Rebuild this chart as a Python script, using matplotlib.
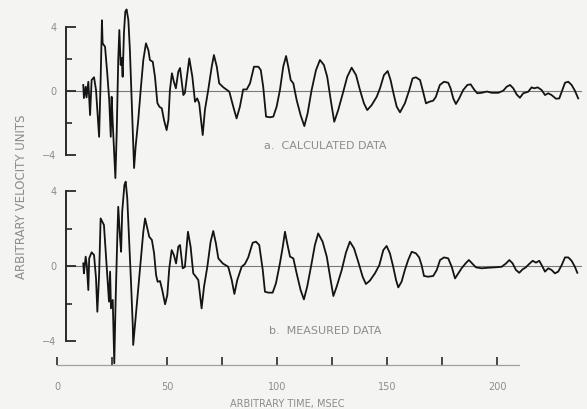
import numpy as np
import matplotlib
matplotlib.use('Agg')
import matplotlib.pyplot as plt
from matplotlib.ticker import FixedLocator

# calculated data (top trace), time in msec, arbitrary velocity units
calc_time = [11.8, 12.1, 12.9, 13.3, 14.1, 14.9, 15.6, 16.7, 17.6, 19.0,
             19.7, 20.3, 20.6, 21.7, 22.7, 23.6, 24.3, 24.7, 25.2, 26.4,
             27.0, 27.7, 28.2, 28.8, 29.3, 29.7, 30.3, 30.9, 31.5, 32.3,
             33.0, 33.8, 34.5, 34.9, 35.6, 36.8, 37.9, 39.1, 40.3, 41.4,
             42.1, 43.4, 44.4, 45.5, 46.4, 47.5, 48.5, 49.7, 50.5, 51.2,
             52.1, 53.0, 53.9, 55.0, 55.8, 57.3, 58.0, 60.0, 61.4, 62.6,
             63.6, 64.5, 66.1, 67.1, 68.6, 70.2, 71.2, 72.5, 73.6, 75.5,
             78.2, 80.0, 81.5, 83.0, 84.5, 86.1, 87.6, 89.4, 91.4, 92.5,
             93.6, 94.9, 96.7, 98.2, 99.7, 101.2, 102.7, 104.0, 105.0, 106.1,
             107.3, 108.8, 110.6, 112.3, 113.8, 115.6, 117.6, 119.4, 121.2, 122.7,
             124.3, 125.9, 127.7, 130.0, 131.8, 133.8, 135.8, 137.6, 139.4, 140.9,
             142.9, 145.2, 146.7, 148.5, 150.2, 151.5, 153.0, 154.3, 155.8, 158.0,
             160.0, 161.5, 163.0, 164.9, 166.1, 167.6, 169.1, 170.9, 172.1, 173.9,
             175.8, 177.7, 178.8, 180.0, 181.2, 182.7, 184.5, 186.4, 187.9, 189.4,
             190.9, 192.9, 195.3, 197.5, 200.5, 202.7, 204.3, 205.8, 207.3, 208.8,
             210.3, 211.8, 214.1, 215.6, 216.8, 218.4, 220.2, 221.7, 223.2, 224.7,
             226.7, 228.2, 229.3, 230.8, 232.3, 233.8, 235.3, 236.8]
calc_vel = [0.38, -0.44, 0.27, -0.40, 0.58, -1.50, 0.69, 0.86, 0.06, -2.86,
            0.69, 4.42, 2.98, 2.77, 1.12, -0.56, -2.86, -0.36, -2.00, -5.44,
            -2.63, 1.94, 3.81, 1.63, 2.06, 0.89, 3.63, 4.96, 5.10, 4.44,
            2.56, -0.56, -3.25, -4.81, -3.48, -1.81, 0.06, 1.94, 2.98, 2.56,
            1.94, 1.83, 0.89, -0.75, -0.98, -1.08, -1.81, -2.44, -1.81, 0.06,
            1.11, 0.58, 0.17, 1.21, 1.44, -0.25, -0.12, 2.04, 0.89, -0.67,
            -0.46, -0.77, -2.75, -1.19, 0.06, 1.52, 2.25, 1.52, 0.48, 0.23,
            -0.04, -0.98, -1.71, -0.98, 0.10, 0.10, 0.48, 1.52, 1.52, 1.31,
            0.27, -1.60, -1.64, -1.60, -0.98, 0.06, 1.52, 2.19, 1.52, 0.69,
            0.48, -0.56, -1.50, -2.19, -1.39, 0.06, 1.31, 1.94, 1.63, 0.89,
            -0.56, -1.92, -1.19, -0.04, 0.89, 1.46, 1.00, 0.06, -0.77, -1.19,
            -0.88, -0.36, 0.17, 1.00, 1.25, 0.69, -0.25, -0.98, -1.33, -0.77,
            0.06, 0.79, 0.86, 0.69, 0.06, -0.77, -0.67, -0.60, -0.36, 0.38,
            0.58, 0.52, 0.17, -0.46, -0.81, -0.46, 0.06, 0.38, 0.42, 0.11,
            -0.14, -0.11, -0.03, -0.11, -0.11, 0.02, 0.27, 0.38, 0.17, -0.21,
            -0.42, -0.14, -0.04, 0.23, 0.17, 0.23, 0.06, -0.25, -0.14, -0.25,
            -0.48, -0.46, -0.04, 0.52, 0.58, 0.38, 0.02, -0.46]

# measured data (bottom trace)
meas_time = [11.8, 12.1, 12.9, 13.4, 14.1, 14.5, 15.6, 16.7, 17.6, 18.2,
             19.0, 19.7, 20.5, 21.2, 22.1, 22.7, 23.5, 24.0, 24.4, 25.2,
             25.9, 26.5, 27.3, 27.7, 28.5, 29.0, 29.5, 30.5, 31.1, 31.8,
             32.7, 33.5, 34.3, 34.5, 35.3, 36.5, 37.9, 39.1, 39.9, 40.9,
             41.8, 43.0, 44.0, 44.9, 45.6, 46.7, 47.7, 49.0, 50.0, 50.9,
             52.0, 53.0, 54.0, 55.0, 55.8, 57.0, 58.0, 59.4, 60.6, 61.8,
             63.0, 64.1, 65.6, 66.7, 68.2, 69.7, 70.9, 72.1, 73.2, 75.2,
             77.7, 79.3, 80.5, 81.8, 83.8, 85.3, 86.8, 88.8, 90.3, 91.8,
             93.4, 94.4, 95.9, 97.9, 99.4, 101.2, 102.5, 103.5, 104.5, 105.8,
             107.3, 108.8, 110.6, 112.1, 113.6, 115.6, 117.1, 118.6, 120.6, 122.5,
             124.0, 125.5, 127.0, 129.3, 131.2, 133.0, 134.9, 136.8, 138.8, 140.3,
             142.1, 144.4, 146.4, 148.2, 149.7, 151.2, 152.7, 154.0, 155.0, 156.5,
             158.0, 159.5, 161.1, 163.0, 164.5, 165.6, 166.7, 168.6, 170.9, 172.5,
             174.0, 175.8, 177.7, 179.3, 180.8, 182.3, 183.8, 185.6, 187.1, 188.6,
             190.3, 192.9, 195.9, 198.9, 202.0, 204.0, 205.5, 207.0, 208.5, 210.0,
             211.5, 213.0, 214.5, 216.1, 217.6, 219.1, 220.6, 221.7, 223.2, 224.7,
             226.2, 227.7, 229.3, 230.8, 232.3, 233.8, 235.3, 236.4]
meas_vel = [0.14, -0.39, 0.50, 0.05, -1.28, 0.41, 0.73, 0.59, -0.66, -2.44,
            -0.48, 2.54, 2.36, 2.19, 0.59, -0.48, -1.90, -0.30, -2.26, -1.81,
            -5.19, -1.90, 1.65, 3.16, 1.56, 0.76, 2.90, 4.32, 4.50, 3.61,
            1.30, -0.84, -3.15, -4.21, -3.15, -1.55, 0.23, 1.83, 2.54, 2.01,
            1.56, 1.39, 0.68, -0.48, -0.84, -0.80, -1.28, -2.04, -1.55, -0.12,
            0.85, 0.59, 0.14, 1.03, 1.12, -0.12, -0.05, 1.83, 1.03, -0.39,
            -0.57, -0.75, -2.26, -1.10, -0.04, 1.30, 1.87, 1.21, 0.41, 0.14,
            -0.04, -0.75, -1.49, -0.75, -0.04, 0.11, 0.46, 1.24, 1.30, 1.12,
            -0.21, -1.37, -1.42, -1.42, -0.92, 0.14, 1.03, 1.83, 1.21, 0.50,
            0.41, -0.39, -1.28, -1.78, -1.10, 0.14, 1.12, 1.74, 1.30, 0.50,
            -0.57, -1.60, -1.10, -0.21, 0.71, 1.30, 0.94, 0.23, -0.57, -0.96,
            -0.78, -0.39, 0.05, 0.85, 1.07, 0.68, -0.04, -0.75, -1.14, -0.84,
            -0.21, 0.32, 0.76, 0.68, 0.46, 0.05, -0.53, -0.57, -0.53, -0.21,
            0.32, 0.46, 0.41, -0.04, -0.66, -0.39, -0.12, 0.14, 0.32, 0.14,
            -0.07, -0.12, -0.09, -0.07, -0.04, 0.14, 0.32, 0.14, -0.21, -0.36,
            -0.18, -0.07, 0.11, 0.28, 0.18, 0.28, -0.04, -0.30, -0.12, -0.21,
            -0.39, -0.30, 0.05, 0.46, 0.46, 0.28, -0.04, -0.36]

time_ticks = [0, 25, 50, 75, 100, 125, 150, 175, 200]
time_labels = ['0', '', '50', '', '100', '', '150', '', '200']
vel_ticks = [-4, 0, 4]
vel_labels = ['\u22124', '0', '4']
panel_titles = ['a.  CALCULATED DATA', 'b.  MEASURED DATA']

bg = '#f4f4f2'
ink = '#141414'
grey = '#8c8c8c'

fig = plt.figure(figsize=(5.87, 4.09), dpi=100, facecolor=bg)

# axes in figure fractions, picked so the scale matches the scan
ax_top = fig.add_axes([0.0, 0.5599, 1.0, 0.4401])
ax_bot = fig.add_axes([0.0, 0.1076, 1.0, 0.4523])

xlim = (-26.05, 240.8)
ax_top.set_ylim(-5.56, 5.69)
ax_bot.set_ylim(-5.28, 4.59)

for ax, tt, vv, title in [(ax_top, calc_time, calc_vel, panel_titles[0]),
                          (ax_bot, meas_time, meas_vel, panel_titles[1])]:
    ax.set_facecolor('none')
    ax.set_xlim(xlim)
    ax.axhline(0, xmin=(4 - xlim[0]) / (xlim[1] - xlim[0]),
               xmax=(238 - xlim[0]) / (xlim[1] - xlim[0]),
               color='#7a7a7a', lw=0.8, zorder=1)
    ax.plot(tt, vv, color=ink, lw=1.3, zorder=3, solid_joinstyle='round')

    for s in ['top', 'right']:
        ax.spines[s].set_visible(False)
    # the bracket scale on the left
    ax.spines['left'].set_position(('data', 4))
    ax.spines['left'].set_bounds(-4, 4)
    ax.spines['left'].set_color('#2a2a2a')
    ax.spines['left'].set_linewidth(1.4)
    ax.yaxis.set_major_locator(FixedLocator(vel_ticks))
    ax.set_yticklabels(vel_labels)
    ax.yaxis.set_minor_locator(FixedLocator([-2, 2]))
    ax.tick_params(axis='y', which='major', direction='in', length=7,
                   width=1.3, color='#2a2a2a', pad=7, labelsize=7,
                   labelcolor=grey)
    ax.tick_params(axis='y', which='minor', direction='in', length=4,
                   width=1.2, color='#2a2a2a')

    ax.text(121.7, -3.45, title, ha='center', va='center', fontsize=8,
            color=grey)

ax_top.spines['bottom'].set_visible(False)
ax_top.set_xticks([])

# time axis on the lower panel
ax_bot.spines['bottom'].set_bounds(0, 210)
ax_bot.spines['bottom'].set_color('#a0a0a0')
ax_bot.spines['bottom'].set_linewidth(0.9)
ax_bot.set_xticks(time_ticks)
ax_bot.set_xticklabels(time_labels)
ax_bot.tick_params(axis='x', direction='in', length=6, width=1.2,
                   color='#2a2a2a', pad=12, labelsize=7, labelcolor=grey)

fig.text(287 / 587, 1 - 403.5 / 409, 'ARBITRARY TIME, MSEC', ha='center',
         va='center', fontsize=7, color=grey)
fig.text(22 / 587, 1 - 197 / 409, 'ARBITRARY VELOCITY UNITS', ha='center',
         va='center', rotation=90, fontsize=8.5, color=grey)

plt.savefig('out.png', dpi=100, facecolor=bg)
